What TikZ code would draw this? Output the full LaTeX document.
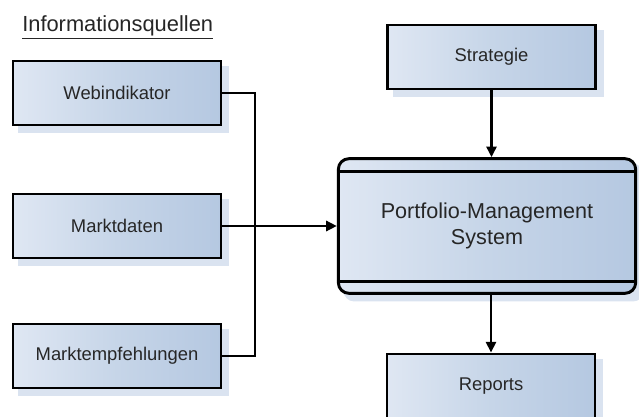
\documentclass[tikz,border=0pt]{standalone}
\usepackage{fontspec}
\setmainfont{Liberation Sans}
\usetikzlibrary{backgrounds,arrows.meta}
\definecolor{boxlight}{HTML}{DFE7F3}
\definecolor{boxmid}{HTML}{C6D5E8}
\definecolor{boxdark}{HTML}{B5C8E1}
\definecolor{boxshadow}{HTML}{DAE3F0}
\definecolor{txtgray}{HTML}{262626}

\begin{document}
\begin{tikzpicture}[x=0.75pt, y=-0.75pt,
  box/.style={rectangle, draw=black, line width=2.2pt,
    left color=boxlight, right color=boxdark, middle color=boxmid,
    minimum width=156pt, minimum height=48pt, inner sep=0pt, text=txtgray,
    font=\fontsize{13.8pt}{16pt}\selectfont},
  shadowbox/.style={fill=boxshadow},
  link/.style={line width=2pt, black},
  arr/.style={link, -{Triangle[length=8pt,width=7.5pt]}}]

\useasboundingbox (0,0) rectangle (639,417);

% sources on the left
\node[anchor=base west, inner sep=0pt, text=txtgray,
  font=\fontsize{16.4pt}{19pt}\selectfont] (title) at (22,32)
  {\underline{Informationsquellen}};

\path
(117,93)  node[box] (web)   {Webindikator}
(117,226) node[box] (markt) {Marktdaten}
(117,356) node[box] (empf)  {Marktempfehlungen};

% strategy, system and reports
\path
(491.5,57) node[box] (strat) {Strategie}
(487,226)  node[box, rounded corners=8pt, minimum width=223pt,
  minimum height=101pt, align=center,
  font=\fontsize{16.2pt}{19.5pt}\selectfont] (pms)
  {Portfolio-Management\\System}
(491,386)  node[box] (rep) {Reports};

\draw[link, line width=2.2pt] ([yshift=-11pt]pms.north west) -- ([yshift=-11pt]pms.north east);
\draw[link, line width=2.2pt] ([yshift=10pt]pms.south west) -- ([yshift=10pt]pms.south east);

% shadows behind the boxes
\begin{scope}[on background layer]
\foreach \n in {web,markt,empf,strat,rep}
  \fill[shadowbox] ([shift={(5pt,-5pt)}]\n.north west) rectangle ([shift={(5pt,-5pt)}]\n.south east);
\fill[shadowbox, rounded corners=8pt] ([shift={(5pt,-5pt)}]pms.north west) rectangle ([shift={(5pt,-5pt)}]pms.south east);
\end{scope}

\coordinate (bus) at (255,226);
\draw[link] (web.east) -| (bus) |- (empf.east);
\draw[arr] (markt.east) -- (pms.west);
\draw[arr] (strat.south) -- (strat.south |- pms.north);
\draw[arr] (rep.north |- pms.south) -- (rep.north);

\end{tikzpicture}
\end{document}
